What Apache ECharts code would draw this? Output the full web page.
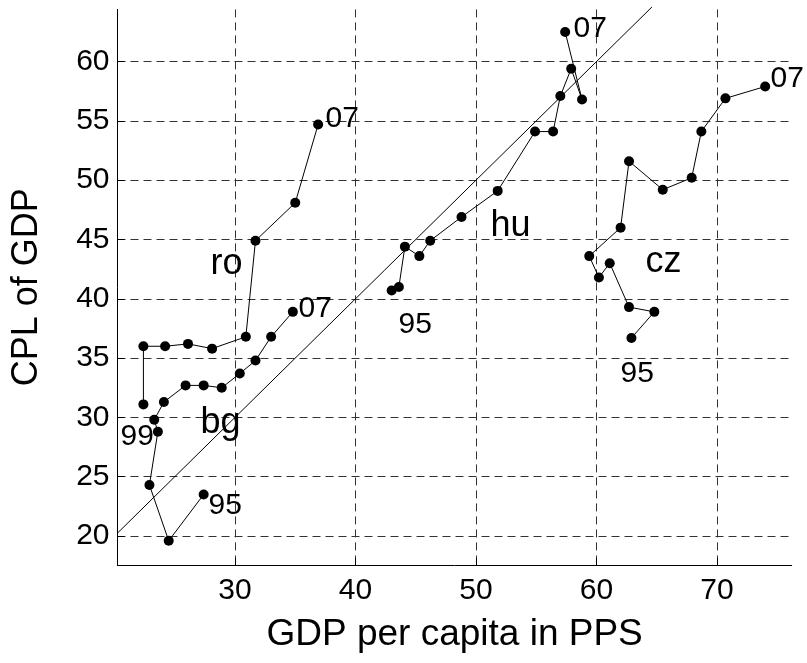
<!DOCTYPE html>
<html>
<head>
<meta charset="utf-8">
<script src="https://cdn.jsdelivr.net/npm/echarts@6/dist/echarts.min.js"></script>
<style>
  html, body { margin: 0; padding: 0; background: #fff; }
  #chart { width: 807px; height: 663px; }
</style>
</head>
<body>
<div id="chart"></div>
<script>
// GDP per capita in PPS (x) vs CPL of GDP (y), one point per year
var roGDP = [22.4, 22.4, 24.2, 26.1, 28.1, 30.9, 31.7, 35.0, 36.9];
var roCPL = [31.1, 36.0, 36.0, 36.2, 35.8, 36.8, 44.9, 48.1, 54.7];
var bgGDP = [27.4, 24.5, 22.9, 23.6, 23.3, 24.1, 25.9, 27.4, 28.9, 30.4, 31.7, 33.0, 34.8];
var bgCPL = [23.5, 19.6, 24.3, 28.8, 29.8, 31.3, 32.7, 32.7, 32.5, 33.7, 34.8, 36.8, 38.9];
var huGDP = [43.0, 43.6, 44.1, 45.3, 46.2, 48.8, 51.8, 54.9, 56.4, 57.0, 57.9, 58.8, 57.4];
var huCPL = [40.7, 41.0, 44.4, 43.6, 44.9, 46.9, 49.1, 54.1, 54.1, 57.1, 59.4, 56.8, 62.5];
var czGDP = [62.9, 64.8, 62.7, 61.1, 60.2, 59.4, 62.0, 62.7, 65.5, 67.9, 68.7, 70.7, 74.0];
var czCPL = [36.7, 38.9, 39.3, 43.0, 41.8, 43.6, 46.0, 51.6, 49.2, 50.2, 54.1, 56.9, 57.9];

// 45 degree reference line (y = x)
var diagEnds = [20.25, 64.6];

// axis ranges
var xRange = [20.25, 76.2];
var yRange = [17.55, 64.4];

// text annotations (left edge, vertical middle, in data units)
var yearText = ['07', '07', '07', '07', '95', '95', '95', '99'];
var yearX = [37.47, 35.23, 58.05, 74.40, 27.76, 43.53, 61.95, 20.46];
var yearY = [55.16, 39.14, 62.75, 58.53, 22.53, 37.79, 33.66, 28.35];
var countryText = ['ro', 'bg', 'hu', 'cz'];
var countryX = [27.93, 27.10, 51.16, 64.02];
var countryY = [42.89, 29.49, 46.16, 43.06];

var font = 'Liberation Sans, Arial, Helvetica, sans-serif';

function pairs(xs, ys) {
  return xs.map(function (x, i) { return [x, ys[i]]; });
}
function notes(xs, ys, txt) {
  return xs.map(function (x, i) { return [x, ys[i], txt[i]]; });
}
function countrySeries(name, xs, ys) {
  return {
    name: name,
    type: 'line',
    data: pairs(xs, ys),
    symbol: 'circle',
    symbolSize: 10,
    showSymbol: true,
    itemStyle: { color: '#000', opacity: 1 },
    lineStyle: { color: '#000', width: 1 },
    z: 3
  };
}
function noteSeries(data, size) {
  return {
    type: 'scatter',
    data: data,
    symbolSize: 1,
    itemStyle: { color: 'rgba(0,0,0,0)', opacity: 1 },
    silent: true,
    label: {
      show: true,
      position: 'right',
      distance: 0,
      formatter: function (p) { return p.value[2]; },
      color: '#000',
      opacity: 1,
      fontSize: size,
      fontFamily: font
    },
    z: 4
  };
}

var chart = echarts.init(document.getElementById('chart'));

var gridLine = { show: true, showMinLine: false, showMaxLine: false,
  lineStyle: { color: '#333', width: 1, type: [8, 5] } };

var option = {
  animation: false,
  backgroundColor: '#fff',
  grid: { left: 117.5, right: 15.3, top: 9.4, bottom: 97.9 },
  xAxis: {
    type: 'value',
    min: xRange[0],
    max: xRange[1],
    splitNumber: 5,
    minInterval: 10,
    maxInterval: 10,
    name: 'GDP per capita in PPS',
    nameLocation: 'middle',
    nameGap: 51,
    nameTextStyle: { color: '#000', fontSize: 37, fontFamily: font },
    axisLine: { show: true, lineStyle: { color: '#000', width: 1 } },
    axisTick: { show: true, inside: true, length: 7, lineStyle: { color: '#000' } },
    axisLabel: { color: '#000', fontSize: 30, fontFamily: font, margin: 11,
      showMinLabel: false, showMaxLabel: false },
    splitLine: gridLine
  },
  yAxis: {
    type: 'value',
    min: yRange[0],
    max: yRange[1],
    splitNumber: 9,
    minInterval: 5,
    maxInterval: 5,
    name: 'CPL of GDP',
    nameLocation: 'middle',
    nameGap: 72,
    nameTextStyle: { color: '#000', fontSize: 36, fontFamily: font },
    axisLine: { show: true, lineStyle: { color: '#000', width: 1 } },
    axisTick: { show: true, inside: true, length: 7, lineStyle: { color: '#000' } },
    axisLabel: { color: '#000', fontSize: 30, fontFamily: font, margin: 8,
      showMinLabel: false, showMaxLabel: false },
    splitLine: gridLine
  },
  series: [
    {
      type: 'line',
      data: [[diagEnds[0], diagEnds[0]], [diagEnds[1], diagEnds[1]]],
      showSymbol: false,
      clip: false,
      lineStyle: { color: '#000', width: 1 },
      silent: true,
      z: 2
    },
    countrySeries('ro', roGDP, roCPL),
    countrySeries('bg', bgGDP, bgCPL),
    countrySeries('hu', huGDP, huCPL),
    countrySeries('cz', czGDP, czCPL),
    noteSeries(notes(yearX, yearY, yearText), 30),
    noteSeries(notes(countryX, countryY, countryText), 36)
  ]
};

chart.setOption(option);
</script>
</body>
</html>
